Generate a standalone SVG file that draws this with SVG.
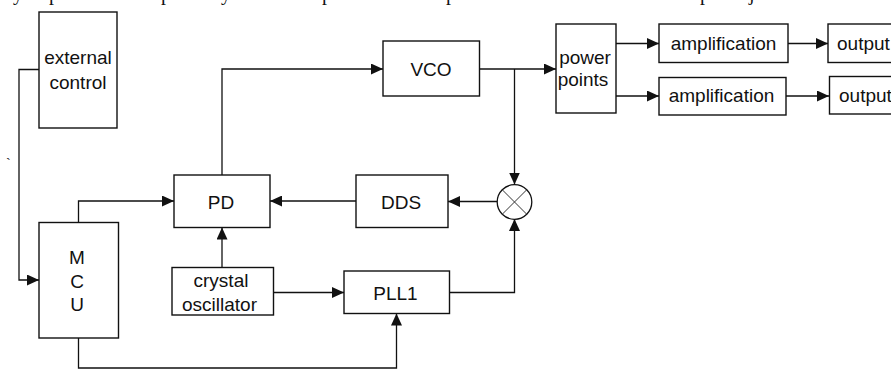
<svg xmlns="http://www.w3.org/2000/svg" width="891" height="369" viewBox="0 0 891 369">
<defs>
<style>
.box{fill:#fff;stroke:#111;stroke-width:1.4}
.t{font-family:"Liberation Sans",Arial,sans-serif;font-size:19px;fill:#111;text-anchor:middle}
.w{font-family:"Liberation Serif","Times New Roman",serif;font-size:20px;fill:#111}
.c{fill:none;stroke:#111;stroke-width:1.3}
.a{marker-end:url(#ah)}
</style>
<marker id="ah" markerUnits="userSpaceOnUse" markerWidth="12" markerHeight="11" refX="12" refY="5.5" orient="auto">
<path d="M0,0 L12,5.5 L0,11 z" fill="#111"/>
</marker>
</defs>
<rect width="891" height="369" fill="#fff"/>
<g id="cut-line">
<text class="w" x="13" y="0">y</text>
<text class="w" x="49" y="0">p</text>
<text class="w" x="161" y="0">p</text>
<text class="w" x="221" y="0">y</text>
<text class="w" x="322" y="0">p</text>
<text class="w" x="446" y="0">p</text>
<text class="w" x="700" y="0">p</text>
<text class="w" x="749" y="0">j</text>
<text class="w" x="6" y="168" style="font-size:14px">`</text>
</g>
<g id="connectors">
<polyline class="c a" points="39,69.5 19,69.5 19,280 39,280"/>
<polyline class="c a" points="78.5,222 78.5,201 174,201"/>
<polyline class="c a" points="78.5,338 78.5,368 396.5,368 396.5,313.5"/>
<polyline class="c a" points="222,175 222,69 383,69"/>
<line class="c a" x1="222" y1="267" x2="222" y2="227.5"/>
<line class="c a" x1="273" y1="292.5" x2="344" y2="292.5"/>
<polyline class="c a" points="449.5,292.5 514.5,292.5 514.5,219"/>
<line class="c a" x1="497" y1="201.5" x2="448" y2="201.5"/>
<line class="c a" x1="356" y1="201" x2="270" y2="201"/>
<line class="c a" x1="479.5" y1="69" x2="556" y2="69"/>
<line class="c a" x1="514.5" y1="69" x2="514.5" y2="184.5"/>
<line class="c a" x1="616" y1="43.5" x2="659" y2="43.5"/>
<line class="c a" x1="616" y1="96" x2="659" y2="96"/>
<line class="c a" x1="788" y1="43.5" x2="828" y2="43.5"/>
<line class="c a" x1="786" y1="96" x2="829" y2="96"/>
</g>
<g id="external-control">
<rect class="box" x="39" y="12" width="78" height="116"/>
<text class="t" x="78" y="63.5">external</text>
<text class="t" x="78" y="88.5">control</text>
</g>
<g id="vco">
<rect class="box" x="383" y="41" width="96.5" height="55"/>
<text class="t" x="431" y="75.5">VCO</text>
</g>
<g id="power-points">
<rect class="box" x="556" y="24" width="60" height="89"/>
<text class="t" x="585" y="63.5">power</text>
<text class="t" x="583" y="86">points</text>
</g>
<g id="amplification-1">
<rect class="box" x="659" y="24" width="129" height="38.5"/>
<text class="t" x="723.5" y="49.5">amplification</text>
</g>
<g id="amplification-2">
<rect class="box" x="659" y="77.5" width="127" height="37.5"/>
<text class="t" x="721.5" y="102">amplification</text>
</g>
<g id="output-1">
<rect class="box" x="828" y="24" width="80" height="38.5"/>
<text class="t" x="837" y="49.5" style="text-anchor:start">output</text>
</g>
<g id="output-2">
<rect class="box" x="829.5" y="76.5" width="80" height="37.5"/>
<text class="t" x="839" y="101.5" style="text-anchor:start">output</text>
</g>
<g id="pd">
<rect class="box" x="174" y="175" width="96" height="52.5"/>
<text class="t" x="221" y="209">PD</text>
</g>
<g id="dds">
<rect class="box" x="356" y="175" width="92" height="52.5"/>
<text class="t" x="401" y="208.5">DDS</text>
</g>
<g id="mixer">
<circle cx="514.5" cy="202" r="17.3" fill="#fff" stroke="#111" stroke-width="1.3"/>
<path d="M502.3,189.8 L526.7,214.2 M526.7,189.8 L502.3,214.2" stroke="#333" stroke-width="1"/>
</g>
<g id="mcu">
<rect class="box" x="39" y="222.5" width="79.5" height="115.5"/>
<text class="t" x="77" y="263.5">M</text>
<text class="t" x="77" y="287.5">C</text>
<text class="t" x="77" y="311">U</text>
</g>
<g id="crystal-oscillator">
<rect class="box" x="172" y="267.5" width="101.5" height="47.5"/>
<text class="t" x="221" y="287">crystal</text>
<text class="t" x="219.5" y="311">oscillator</text>
</g>
<g id="pll1">
<rect class="box" x="344" y="271" width="105.5" height="42.5"/>
<text class="t" x="395.5" y="299.5">PLL1</text>
</g>
</svg>
